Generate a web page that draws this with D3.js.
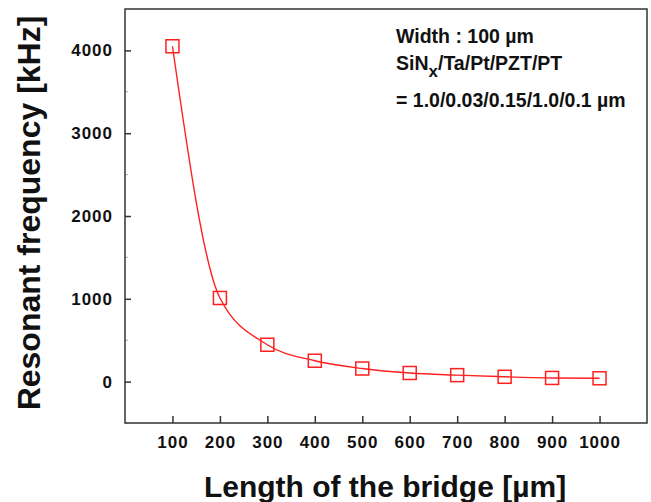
<!DOCTYPE html>
<html>
<head>
<meta charset="utf-8">
<script src="https://cdn.jsdelivr.net/npm/d3@7"></script>
<style>
  body { margin: 0; background: #fff; }
</style>
</head>
<body>
<div id="chart"></div>
<script>
  const lengths = [100, 200, 300, 400, 500, 600, 700, 800, 900, 1000];
  const frequencies = [4050, 1010, 445, 252, 158, 104, 78, 58, 44, 40];
  const xTicks = [100, 200, 300, 400, 500, 600, 700, 800, 900, 1000];
  const yTicks = [0, 1000, 2000, 3000, 4000];
  const yMinorTicks = [-500, 500, 1500, 2500, 3500];
  const noteLines = ["Width : 100 µm", "= 1.0/0.03/0.15/1.0/0.1 µm"];

  const W = 651, H = 502;
  const margin = { top: 9, right: 4, bottom: 79, left: 125 };
  const width = W - margin.left - margin.right;
  const height = H - margin.top - margin.bottom;
  const red = "#ff1f1f";
  const axisColor = "#333";
  const font = "'Liberation Sans', Arial, sans-serif";

  const xScale = d3.scaleLinear().domain([0, 1100]).range([0, width]);
  const yScale = d3.scaleLinear().domain([-500, 4500]).range([height, 0]);

  const svg = d3.select("#chart").append("svg")
    .attr("width", W)
    .attr("height", H)
    .style("font-family", font);

  const g = svg.append("g")
    .attr("transform", `translate(${margin.left}, ${margin.top})`);

  // minor ticks (faint)
  g.append("g")
    .selectAll("line")
    .data(yMinorTicks)
    .join("line")
    .attr("x1", 0).attr("x2", 3)
    .attr("y1", d => yScale(d)).attr("y2", d => yScale(d))
    .style("stroke", "#aaa")
    .style("stroke-width", 1);

  const yAxis = g.append("g")
    .call(d3.axisLeft(yScale).tickValues(yTicks).tickSize(-6).tickPadding(12).tickFormat(d3.format("d")));
  yAxis.select(".domain").remove();
  yAxis.selectAll("line").style("stroke", axisColor).style("stroke-width", 1.5);
  yAxis.selectAll("text")
    .style("font-family", font)
    .style("font-size", "17px")
    .style("font-weight", "bold")
    .style("letter-spacing", "1px")
    .style("fill", "#111");

  const xAxis = g.append("g")
    .attr("transform", `translate(0, ${height})`)
    .call(d3.axisBottom(xScale).tickValues(xTicks).tickSize(-7).tickPadding(13).tickFormat(d3.format("d")));
  xAxis.select(".domain").remove();
  xAxis.selectAll("line").style("stroke", axisColor).style("stroke-width", 1.5);
  xAxis.selectAll("text")
    .style("font-family", font)
    .style("font-size", "17px")
    .style("font-weight", "bold")
    .style("letter-spacing", "1px")
    .style("fill", "#111");

  // frame
  g.append("rect")
    .attr("x", 0).attr("y", 0)
    .attr("width", width).attr("height", height)
    .style("fill", "none")
    .style("stroke", axisColor)
    .style("stroke-width", 1.5);

  const data = lengths.map((d, i) => [d, frequencies[i]]);

  const line = d3.line()
    .curve(d3.curveMonotoneX)
    .x(d => xScale(d[0]))
    .y(d => yScale(d[1]));

  g.append("path")
    .datum(data)
    .attr("d", line)
    .style("fill", "none")
    .style("stroke", red)
    .style("stroke-width", 1.4);

  const size = 13;
  g.selectAll(".marker")
    .data(data)
    .join("rect")
    .attr("class", "marker")
    .attr("x", d => xScale(d[0]) - size / 2)
    .attr("y", d => yScale(d[1]) - size / 2)
    .attr("width", size)
    .attr("height", size)
    .style("fill", "none")
    .style("stroke", red)
    .style("stroke-width", 1.5);

  // annotation
  const note = svg.append("g")
    .style("font-family", font)
    .style("font-size", "19.5px")
    .style("font-weight", "bold")
    .style("fill", "#111");

  note.append("text")
    .attr("x", 396).attr("y", 43)
    .text(noteLines[0]);

  const layers = note.append("text")
    .attr("x", 396).attr("y", 70);
  layers.append("tspan").text("SiN");
  layers.append("tspan").attr("dy", 7).style("font-size", "17px").text("x");
  layers.append("tspan").attr("dy", -7).text("/Ta/Pt/PZT/PT");

  note.append("text")
    .attr("x", 396).attr("y", 107)
    .text(noteLines[1]);

  // axis titles
  svg.append("text")
    .attr("x", margin.left + xScale(550) - 1)
    .attr("y", 497)
    .attr("text-anchor", "middle")
    .style("font-size", "30px")
    .style("font-weight", "bold")
    .style("fill", "#111")
    .text("Length of the bridge [µm]");

  svg.append("text")
    .attr("transform", "translate(40, 213) rotate(-90)")
    .attr("text-anchor", "middle")
    .style("font-size", "32px")
    .style("font-weight", "bold")
    .style("fill", "#111")
    .text("Resonant frequency [kHz]");
</script>
</body>
</html>
